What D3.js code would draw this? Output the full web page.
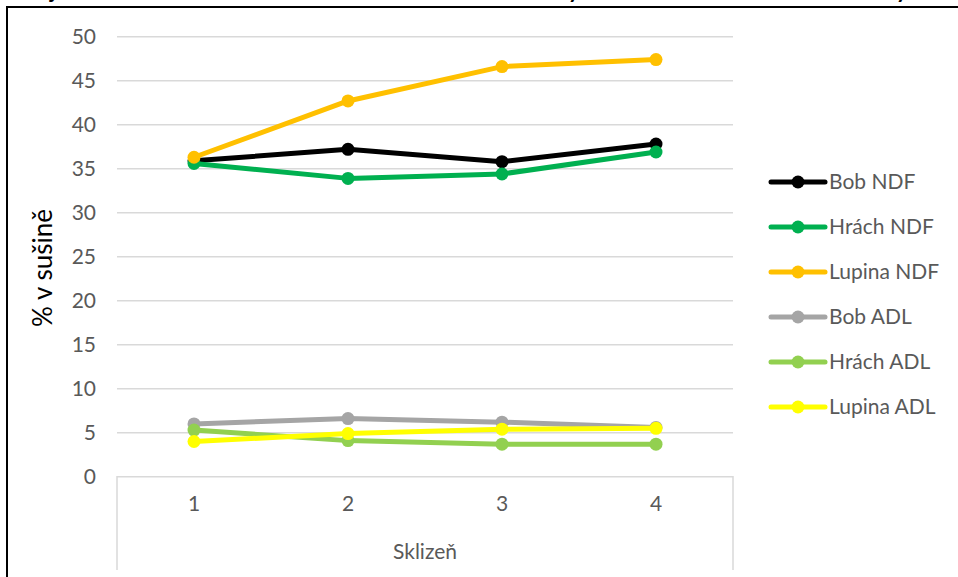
<!DOCTYPE html>
<html><head><meta charset="utf-8">
<script src="https://cdn.jsdelivr.net/npm/d3@7"></script>
<style>body{margin:0;background:#fff}svg{display:block}</style>
</head><body>
<svg id="c" width="958" height="577"></svg>
<script>
const categories = ["1", "2", "3", "4"];
const seriesNames = ["Bob NDF", "Hrách NDF", "Lupina NDF", "Bob ADL", "Hrách ADL", "Lupina ADL"];
const seriesColors = ["#000000", "#00B050", "#FFC000", "#A5A5A5", "#92D050", "#FFFF00"];
const bobNDF = [35.9, 37.2, 35.8, 37.8];
const hrachNDF = [35.6, 33.9, 34.4, 36.9];
const lupinaNDF = [36.3, 42.7, 46.6, 47.4];
const bobADL = [6.0, 6.6, 6.2, 5.6];
const hrachADL = [5.3, 4.1, 3.7, 3.7];
const lupinaADL = [4.0, 4.9, 5.4, 5.5];
const yTicks = [0, 5, 10, 15, 20, 25, 30, 35, 40, 45, 50];
const yTitle = "% v sušině";
const xTitle = "Sklizeň";
const titleFragments = ["j", "y", "y"];

const seriesValues = [bobNDF, hrachNDF, lupinaNDF, bobADL, hrachADL, lupinaADL];
const svg = d3.select("#c");
const font = "Lato, 'Open Sans', sans-serif";

// outer border (chart frame, partly outside view)
svg.append("rect").attr("x", 7).attr("y", 7).attr("width", 1000).attr("height", 620)
  .attr("fill", "none").attr("stroke", "#000").attr("stroke-width", 2);

// clipped title descenders (title lies above the visible frame)
const fragX = [50, 568, 896];
svg.selectAll("text.tf").data(titleFragments).join("text").attr("class", "tf")
  .attr("x", (d, i) => fragX[i]).attr("y", -2)
  .attr("font-family", font).attr("font-weight", "bold").attr("font-size", 22)
  .attr("fill", "#000").text(d => d);

const x = d3.scaleBand().domain(categories).range([117, 733]);
const y = d3.scaleLinear().domain([0, 50]).range([476.7, 36.7]);

// gridlines
svg.append("g").selectAll("line").data(yTicks.filter(t => t > 0)).join("line")
  .attr("x1", 117).attr("x2", 733).attr("y1", d => y(d)).attr("y2", d => y(d))
  .attr("stroke", "#D9D9D9").attr("stroke-width", 1.5);

// category axis box
svg.append("path").attr("d", `M117,570V${y(0)}H733V570`).attr("fill", "none")
  .attr("stroke", "#D9D9D9").attr("stroke-width", 1.5);

// y tick labels
const yAxis = d3.axisLeft(y).tickValues(yTicks).tickSize(0).tickPadding(0);
const gy = svg.append("g").attr("transform", "translate(96,0)").call(yAxis);
gy.select(".domain").remove();
gy.selectAll("text").attr("font-family", font).attr("font-size", 21).attr("fill", "#595959");

// x tick labels
const xAxis = d3.axisBottom(x).tickSize(0).tickPadding(0);
const gx = svg.append("g").attr("transform", "translate(0,496)").call(xAxis);
gx.select(".domain").remove();
gx.selectAll("text").attr("font-family", font).attr("font-size", 21).attr("fill", "#595959");

// axis titles
svg.append("text").attr("transform", "translate(52,268) rotate(-90)").attr("text-anchor", "middle")
  .attr("font-family", font).attr("font-size", 26).attr("fill", "#000").text(yTitle);
svg.append("text").attr("x", 425).attr("y", 559).attr("text-anchor", "middle")
  .attr("font-family", font).attr("font-size", 21).attr("fill", "#595959").text(xTitle);

// series
const line = d3.line().x((d, i) => x(categories[i]) + x.bandwidth() / 2).y(d => y(d));
seriesValues.forEach((vals, si) => {
  const g = svg.append("g");
  g.append("path").attr("d", line(vals)).attr("fill", "none")
    .attr("stroke", seriesColors[si]).attr("stroke-width", 5).attr("stroke-linejoin", "round");
  g.selectAll("circle").data(vals).join("circle")
    .attr("cx", (d, i) => x(categories[i]) + x.bandwidth() / 2).attr("cy", d => y(d))
    .attr("r", 6.5).attr("fill", seriesColors[si]);
});

// legend
const leg = svg.append("g");
seriesNames.forEach((n, i) => {
  const cy = 182 + i * 45;
  leg.append("line").attr("x1", 771).attr("x2", 825).attr("y1", cy).attr("y2", cy)
    .attr("stroke", seriesColors[i]).attr("stroke-width", 5).attr("stroke-linecap", "round");
  leg.append("circle").attr("cx", 798).attr("cy", cy).attr("r", 6.5).attr("fill", seriesColors[i]);
  leg.append("text").attr("x", 829).attr("y", cy).attr("dy", "0.35em")
    .attr("font-family", font).attr("font-size", 21).attr("fill", "#595959").text(n);
});
</script>
</body></html>
